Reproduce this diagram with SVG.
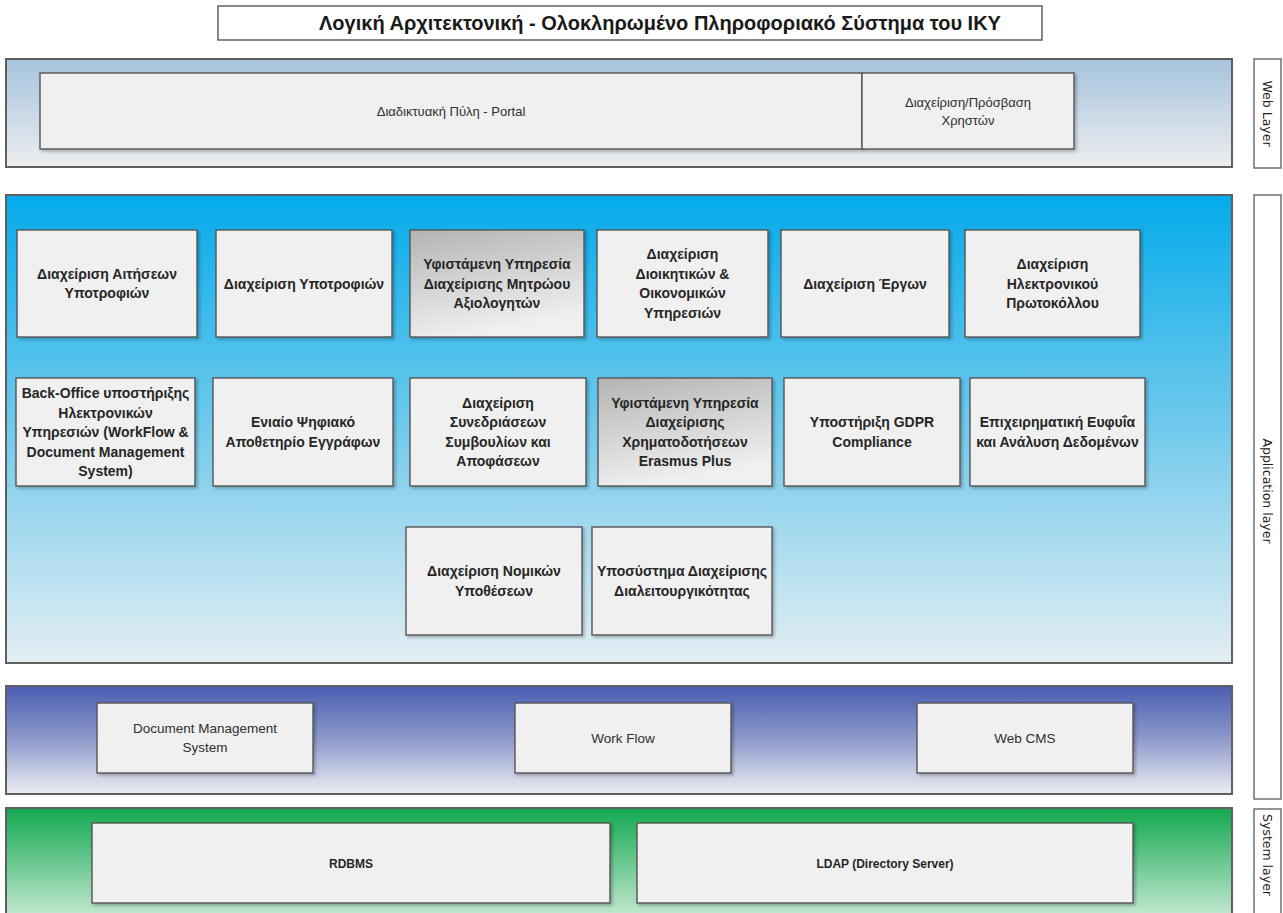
<svg xmlns="http://www.w3.org/2000/svg" width="1283" height="913" viewBox="0 0 1283 913">
<style>
.band{stroke:#5f5f5f;stroke-width:2}
.box{fill:#f0f0f0;stroke:#555;stroke-width:1.4}
.gbox{fill:url(#gGrey);stroke:#555;stroke-width:1.4}
.lbl{fill:#fff;stroke:#666;stroke-width:1.4}
.bt{font-family:"Liberation Sans",Arial,sans-serif;font-weight:bold;font-size:14px;fill:#262626;text-anchor:middle}
.st{font-family:"Liberation Sans",Arial,sans-serif;font-weight:bold;font-size:12px;fill:#262626;text-anchor:middle}
.rt{font-family:"Liberation Sans",Arial,sans-serif;font-size:13px;fill:#2f2f2f;text-anchor:middle}
.mt{font-family:"Liberation Sans",Arial,sans-serif;font-size:13.5px;fill:#2f2f2f;text-anchor:middle}
.vt{font-family:"DejaVu Sans",sans-serif;font-size:12.5px;fill:#222;text-anchor:middle}
.title{font-family:"Liberation Sans",Arial,sans-serif;font-weight:bold;font-size:20px;fill:#1a1a1a;text-anchor:middle}
</style>
<defs>
<linearGradient id="gWeb" x1="0" y1="0" x2="0" y2="1"><stop offset="0" stop-color="#a6c3de"/><stop offset="1" stop-color="#eceeef"/></linearGradient>
<linearGradient id="gApp" x1="0" y1="0" x2="0" y2="1"><stop offset="0" stop-color="#04abeb"/><stop offset="0.5" stop-color="#72caec"/><stop offset="1" stop-color="#e4eef3"/></linearGradient>
<linearGradient id="gMid" x1="0" y1="0" x2="0" y2="1"><stop offset="0" stop-color="#4a5db2"/><stop offset="0.5" stop-color="#8f9bcc"/><stop offset="1" stop-color="#eceef4"/></linearGradient>
<linearGradient id="gSys" x1="0" y1="0" x2="0" y2="1"><stop offset="0" stop-color="#12a84f"/><stop offset="1" stop-color="#d6efdf"/></linearGradient>
<linearGradient id="gGrey" x1="0" y1="0" x2="0.3" y2="1"><stop offset="0" stop-color="#b4b4b4"/><stop offset="1" stop-color="#f0f0f0"/></linearGradient>
<filter id="sh" x="-5%" y="-5%" width="115%" height="120%"><feDropShadow dx="2" dy="2" stdDeviation="1.5" flood-color="#000" flood-opacity="0.25"/></filter>
</defs>

<g id="title">
<rect x="218" y="6" width="824" height="34" fill="#fff" stroke="#555" stroke-width="1.4"/>
<text class="title" x="660" y="30">Λογική Αρχιτεκτονική - Ολοκληρωμένο Πληροφοριακό Σύστημα του ΙΚΥ</text>
</g>

<g id="web-layer">
<rect class="band" x="6" y="59" width="1226" height="108" fill="url(#gWeb)"/>
</g>
<g id="portal"><rect class="box" x="40" y="73" width="822" height="76" filter="url(#sh)"/><text class="rt" x="451" y="115.5">Διαδικτυακή Πύλη - Portal</text></g>
<g id="user-admin"><rect class="box" x="862" y="73" width="212" height="76" filter="url(#sh)"/><text class="rt" x="968" y="106.5">Διαχείριση/Πρόσβαση<tspan x="968" dy="18.5">Χρηστών</tspan></text></g>
<g id="web-layer-label"><rect class="lbl" x="1254" y="59" width="27" height="109"/><text class="vt" transform="translate(1267.5,113.5) rotate(90)" y="4.5">Web Layer</text></g>

<g id="application-layer">
<rect class="band" x="6" y="195" width="1226" height="468" fill="url(#gApp)"/>
</g>
<g id="app-label"><rect class="lbl" x="1254" y="195" width="27" height="604"/><text class="vt" transform="translate(1267.5,491) rotate(90)" y="4.5">Application layer</text></g>

<g id="n-aitiseis"><rect class="box" x="17" y="230" width="180" height="107" filter="url(#sh)"/><text class="bt" x="107" y="278.7">Διαχείριση Αιτήσεων<tspan x="107" dy="19.5">Υποτροφιών</tspan></text></g>
<g id="n-ypotrofies"><rect class="box" x="216" y="230" width="176" height="107" filter="url(#sh)"/><text class="bt" x="304" y="288.5">Διαχείριση Υποτροφιών</text></g>
<g id="n-mitroo"><rect class="gbox" x="410" y="230" width="174" height="107" filter="url(#sh)"/><text class="bt" x="497" y="269">Υφιστάμενη Υπηρεσία<tspan x="497" dy="19.5">Διαχείρισης Μητρώου</tspan><tspan x="497" dy="19.5">Αξιολογητών</tspan></text></g>
<g id="n-dioikitikes"><rect class="box" x="597" y="230" width="171" height="107" filter="url(#sh)"/><text class="bt" x="682.5" y="259.2">Διαχείριση<tspan x="682.5" dy="19.5">Διοικητικών &amp;</tspan><tspan x="682.5" dy="19.5">Οικονομικών</tspan><tspan x="682.5" dy="19.5">Υπηρεσιών</tspan></text></g>
<g id="n-erga"><rect class="box" x="781" y="230" width="168" height="107" filter="url(#sh)"/><text class="bt" x="865" y="288.5">Διαχείριση Έργων</text></g>
<g id="n-protokollo"><rect class="box" x="965" y="230" width="175" height="107" filter="url(#sh)"/><text class="bt" x="1052.5" y="269">Διαχείριση<tspan x="1052.5" dy="19.5">Ηλεκτρονικού</tspan><tspan x="1052.5" dy="19.5">Πρωτοκόλλου</tspan></text></g>

<g id="n-backoffice"><rect class="box" x="16" y="378" width="179" height="108" filter="url(#sh)"/><text class="bt" x="105.5" y="398">Back-Office υποστήριξης<tspan x="105.5" dy="19.5">Ηλεκτρονικών</tspan><tspan x="105.5" dy="19.5">Υπηρεσιών (WorkFlow &amp;</tspan><tspan x="105.5" dy="19.5">Document Management</tspan><tspan x="105.5" dy="19.5">System)</tspan></text></g>
<g id="n-apothetirio"><rect class="box" x="213" y="378" width="180" height="108" filter="url(#sh)"/><text class="bt" x="303" y="427.2">Ενιαίο Ψηφιακό<tspan x="303" dy="19.5">Αποθετηρίο Εγγράφων</tspan></text></g>
<g id="n-synedriaseis"><rect class="box" x="410" y="378" width="176" height="108" filter="url(#sh)"/><text class="bt" x="498" y="407.7">Διαχείριση<tspan x="498" dy="19.5">Συνεδριάσεων</tspan><tspan x="498" dy="19.5">Συμβουλίων και</tspan><tspan x="498" dy="19.5">Αποφάσεων</tspan></text></g>
<g id="n-erasmus"><rect class="gbox" x="598" y="378" width="174" height="108" filter="url(#sh)"/><text class="bt" x="685" y="407.7">Υφιστάμενη Υπηρεσία<tspan x="685" dy="19.5">Διαχείρισης</tspan><tspan x="685" dy="19.5">Χρηματοδοτήσεων</tspan><tspan x="685" dy="19.5">Erasmus Plus</tspan></text></g>
<g id="n-gdpr"><rect class="box" x="784" y="378" width="176" height="108" filter="url(#sh)"/><text class="bt" x="872" y="427.2">Υποστήριξη GDPR<tspan x="872" dy="19.5">Compliance</tspan></text></g>
<g id="n-bi"><rect class="box" x="970" y="378" width="175" height="108" filter="url(#sh)"/><text class="bt" x="1057.5" y="427.2">Επιχειρηματική Ευφυΐα<tspan x="1057.5" dy="19.5">και Ανάλυση Δεδομένων</tspan></text></g>

<g id="n-nomikes"><rect class="box" x="406" y="527" width="176" height="108" filter="url(#sh)"/><text class="bt" x="494" y="576.2">Διαχείριση Νομικών<tspan x="494" dy="19.5">Υποθέσεων</tspan></text></g>
<g id="n-diaeitourgikotita"><rect class="box" x="592" y="527" width="180" height="108" filter="url(#sh)"/><text class="bt" x="682" y="576.2">Υποσύστημα Διαχείρισης<tspan x="682" dy="19.5">Διαλειτουργικότητας</tspan></text></g>

<g id="middleware-layer">
<rect class="band" x="6" y="686" width="1226" height="108" fill="url(#gMid)"/>
</g>
<g id="n-dms"><rect class="box" x="97" y="703" width="216" height="70" filter="url(#sh)"/><text class="mt" x="205" y="733">Document Management<tspan x="205" dy="19">System</tspan></text></g>
<g id="n-workflow"><rect class="box" x="515" y="703" width="216" height="70" filter="url(#sh)"/><text class="mt" x="623" y="743">Work Flow</text></g>
<g id="n-webcms"><rect class="box" x="917" y="703" width="216" height="70" filter="url(#sh)"/><text class="mt" x="1025" y="743">Web CMS</text></g>

<g id="system-layer">
<rect class="band" x="6" y="808" width="1226" height="120" fill="url(#gSys)"/>
</g>
<g id="system-label"><rect class="lbl" x="1254" y="809" width="27" height="115"/><text class="vt" transform="translate(1267.5,855) rotate(90)" y="4.5">System layer</text></g>
<g id="n-rdbms"><rect class="box" x="92" y="823" width="518" height="80" filter="url(#sh)"/><text class="st" x="351" y="867.5">RDBMS</text></g>
<g id="n-ldap"><rect class="box" x="637" y="823" width="496" height="80" filter="url(#sh)"/><text class="st" x="885" y="867.5">LDAP (Directory Server)</text></g>

<g id="connectors"/>
</svg>
